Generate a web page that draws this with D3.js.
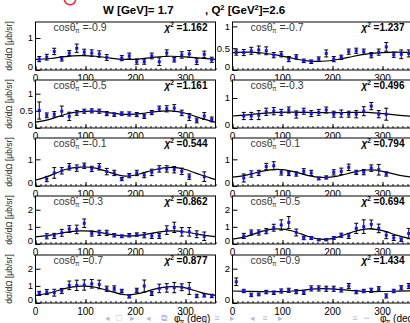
<!DOCTYPE html>
<html><head><meta charset="utf-8">
<script src="https://cdn.jsdelivr.net/npm/d3@7"></script>
<style>
body{margin:0;background:#fff;overflow:hidden}
svg{display:block}
text{font-family:"Liberation Sans",Arial,Helvetica,sans-serif}
</style>
</head><body><svg id="c" width="410" height="323"></svg>
<script>
// phi* bin centres (deg) shared by every panel
const phiBins = [7.5,22.5,37.5,52.5,67.5,82.5,97.5,112.5,127.5,142.5,157.5,172.5,187.5,202.5,217.5,232.5,247.5,262.5,277.5,292.5,307.5,322.5,337.5,352.5];
// fit curve sample points (deg)
const fitPhi = [0,30,60,90,120,150,180,210,240,270,300,330,360];
const xTickVals = [0,100,200,300];

const cosLabels = ["-0.9","-0.7","-0.5","-0.3","-0.1","0.1","0.3","0.5","0.7","0.9"];
const chi2Labels = ["1.162","1.237","1.161","0.496","0.544","0.794","0.862","0.694","0.877","1.434"];
const yMaxes = [1.5,1.1,1.4,1.6,1.8,1.8,2.8,2.8,2.8,2.8];
const yTickSets = [[0,1],[0,0.5,1],[0,0.5,1],[0,1],[0,1],[0,1],[0,1,2],[0,1,2],[0,1,2],[0,2]];

// dσ/dΩ [μb/sr], errors, and fit values per cosθ* bin
const dsM09 = [0.34,0.40,0.58,0.35,0.53,0.68,0.56,0.53,0.50,0.39,null,0.37,0.44,0.26,0.26,0.44,0.26,0.53,0.32,0.47,0.50,0.26,0.49,0.32];
const errM09 = [0.08,0.09,0.1,0.07,0.08,0.13,0.09,0.1,0.1,0.09,null,0.08,0.09,0.08,0.08,0.09,0.12,0.1,0.07,0.1,0.11,0.09,0.1,0.08];
const fitM09 = [0.33,0.36,0.42,0.45,0.43,0.37,0.33,0.35,0.40,0.43,0.41,0.37,0.33];

const dsM07 = [0.40,0.40,0.44,0.46,0.44,0.34,0.36,0.25,0.30,0.21,0.19,0.25,0.38,0.25,0.29,0.42,0.44,0.42,0.34,0.41,0.53,0.35,0.36,0.38];
const errM07 = [0.06,0.07,0.08,0.09,0.09,0.06,0.06,0.06,0.05,0.04,0.04,0.05,0.08,0.06,0.05,0.06,0.06,0.06,0.06,0.07,0.1,0.06,0.1,0.08];
const fitM07 = [0.40,0.41,0.39,0.34,0.27,0.21,0.20,0.24,0.31,0.37,0.40,0.41,0.40];

const dsM05 = [0.51,0.37,0.40,0.49,0.34,0.44,0.49,0.50,0.49,0.42,0.39,0.42,0.41,0.39,0.34,0.45,0.56,0.56,0.58,0.44,0.32,0.22,0.35,0.25];
const errM05 = [0.25,0.07,0.08,0.15,0.12,0.07,0.06,0.06,0.06,0.06,0.05,0.05,0.06,0.06,0.06,0.06,0.08,0.09,0.1,0.08,0.1,0.07,0.1,0.07];
const fitM05 = [0.17,0.26,0.40,0.48,0.49,0.44,0.40,0.42,0.48,0.50,0.43,0.29,0.17];

const dsM03 = [null,0.40,0.40,0.43,0.54,0.56,0.52,0.60,0.45,0.56,0.48,0.52,0.60,0.46,0.48,0.46,0.46,0.56,0.73,0.46,0.46,null,null,null];
const errM03 = [null,0.12,0.12,0.15,0.12,0.12,0.1,0.1,0.12,0.1,0.1,0.1,0.1,0.1,0.12,0.1,0.12,0.15,0.12,0.12,0.2,null,null,null];
const fitM03 = [0.40,0.44,0.49,0.52,0.53,0.52,0.51,0.51,0.52,0.52,0.48,0.43,0.39];

const dsM01 = [null,0.26,0.49,0.57,0.72,0.67,0.76,0.64,0.72,0.54,0.49,0.26,0.39,0.49,0.41,0.51,0.64,0.64,0.61,0.55,0.35,null,0.35,null];
const errM01 = [null,0.1,0.2,0.12,0.12,0.12,0.1,0.1,0.12,0.12,0.1,0.06,0.08,0.1,0.1,0.12,0.12,0.12,0.12,0.12,0.1,null,0.18,null];
const fitM01 = [0.22,0.40,0.62,0.71,0.67,0.50,0.37,0.46,0.62,0.70,0.62,0.42,0.24];

const dsP01 = [null,0.30,0.45,0.49,0.73,0.76,0.51,0.47,0.45,0.55,0.49,0.28,0.32,0.51,0.55,0.70,0.51,0.52,0.67,0.61,0.45,null,null,null];
const errP01 = [null,0.15,0.12,0.1,0.12,0.15,0.1,0.08,0.08,0.1,0.1,0.05,0.06,0.1,0.12,0.12,0.08,0.1,0.12,0.2,0.08,null,null,null];
const fitP01 = [0.33,0.42,0.56,0.62,0.55,0.40,0.32,0.37,0.51,0.60,0.55,0.42,0.33];

const dsP03 = [null,0.45,0.47,0.65,0.87,0.85,1.21,0.61,0.65,0.65,0.51,0.45,0.51,0.55,0.51,0.47,0.47,0.81,0.97,0.71,0.71,0.57,0.45,null];
const errP03 = [null,0.15,0.15,0.2,0.2,0.25,0.25,0.15,0.15,0.15,0.1,0.08,0.1,0.1,0.15,0.15,0.15,0.25,0.3,0.25,0.25,0.2,0.25,null];
const fitP03 = [0.42,0.52,0.68,0.76,0.72,0.56,0.47,0.52,0.66,0.76,0.70,0.55,0.43];

const dsP05 = [null,0.47,0.67,0.67,0.75,0.95,1.11,1.25,0.67,0.35,0.35,0.25,0.25,0.35,0.51,0.47,0.91,1.01,1.15,0.91,0.51,0.35,0.25,0.61];
const errP05 = [null,0.15,0.15,0.15,0.15,0.2,0.3,0.35,0.2,0.1,0.08,0.06,0.06,0.08,0.12,0.15,0.3,0.4,0.25,0.25,0.2,0.15,0.1,0.3];
const fitP05 = [0.28,0.46,0.75,0.88,0.76,0.45,0.27,0.40,0.70,0.88,0.78,0.50,0.28];

const dsP07 = [0.56,0.64,0.60,0.70,1.03,1.03,1.05,1.12,1.08,0.83,0.85,0.70,0.37,0.74,0.99,0.56,0.85,0.88,0.90,0.92,0.85,0.41,0.45,0.41];
const errP07 = [0.12,0.15,0.2,0.15,0.25,0.3,0.3,0.25,0.25,0.15,0.15,0.1,0.08,0.12,0.35,0.12,0.25,0.25,0.3,0.2,0.35,0.1,0.1,0.1];
const fitP07 = [0.45,0.60,0.85,0.98,0.92,0.68,0.48,0.58,0.82,0.95,0.88,0.62,0.44];

const dsP09 = [1.24,0.70,0.47,0.50,0.64,0.60,0.70,0.74,0.66,0.60,0.85,0.85,0.83,0.83,0.76,0.99,0.64,0.70,0.74,0.83,0.41,0.70,0.89,0.99];
const errP09 = [0.22,0.1,0.1,0.08,0.1,0.1,0.12,0.12,0.12,0.1,0.15,0.15,0.15,0.15,0.12,0.15,0.1,0.1,0.12,0.12,0.12,0.1,0.12,0.15];
const fitP09 = [0.70,0.68,0.66,0.66,0.70,0.78,0.84,0.80,0.72,0.67,0.67,0.69,0.71];

const dsSets = [dsM09,dsM07,dsM05,dsM03,dsM01,dsP01,dsP03,dsP05,dsP07,dsP09];
const errSets = [errM09,errM07,errM05,errM03,errM01,errP01,errP03,errP05,errP07,errP09];
const fitSets = [fitM09,fitM07,fitM05,fitM03,fitM01,fitP01,fitP03,fitP05,fitP07,fitP09];

// ---- layout ----
const colX0 = [35.5, 232.5];
const rowTop = [22, 80, 138, 196, 255];
const panelH = 48, panelW = 180;

const svg = d3.select("#c");

// title
const title = svg.append("text").attr("y", 14).attr("font-weight", "bold").attr("font-size", 11.5).attr("fill", "#000");
title.append("tspan").attr("x", 103).text("W [GeV]= 1.7");
title.append("tspan").attr("x", 205).text(", Q");
title.append("tspan").attr("dy", -4).attr("font-size", 7.5).text("2");
title.append("tspan").attr("dy", 4).text(" [GeV");
title.append("tspan").attr("dy", -4).attr("font-size", 7.5).text("2");
title.append("tspan").attr("dy", 4).text("]=2.6");

dsSets.forEach((ds, p) => {
  const row = Math.floor(p / 2), col = p % 2;
  const x0 = colX0[col], top = rowTop[row], bottom = top + panelH;
  const x = d3.scaleLinear().domain([0, 360]).range([x0, x0 + panelW]);
  const y = d3.scaleLinear().domain([0, yMaxes[p]]).range([bottom, top]);
  const g = svg.append("g");

  // panel background masks anything underneath
  g.append("rect").attr("x", x0).attr("y", top).attr("width", panelW).attr("height", panelH).attr("fill", "#fff");

  // x axis: minor ticks every 10 deg, majors every 100 deg (drawn inward)
  const xAxis = d3.axisTop(x).tickValues(d3.range(0, 361, 10)).tickSize(2).tickFormat("");
  g.append("g").attr("transform", `translate(0,${bottom})`).call(xAxis)
    .call(s => { s.select(".domain").remove(); s.selectAll("text").remove(); s.selectAll("line").attr("stroke", "#000").attr("stroke-width", 0.9); });
  const xMajor = d3.axisTop(x).tickValues(xTickVals).tickSize(4).tickFormat("");
  g.append("g").attr("transform", `translate(0,${bottom})`).call(xMajor)
    .call(s => { s.select(".domain").remove(); s.selectAll("text").remove(); s.selectAll("line").attr("stroke", "#000"); });
  // x tick labels
  g.append("g").selectAll("text").data(xTickVals).join("text")
    .attr("x", d => x(d)).attr("y", bottom + 11.5).attr("text-anchor", "middle")
    .attr("font-size", 10).attr("fill", "#000").text(d => d);

  // y axis ticks and labels
  const yAxis = d3.axisRight(y).tickValues(yTickSets[p]).tickSize(5).tickFormat("");
  g.append("g").attr("transform", `translate(${x0},0)`).call(yAxis)
    .call(s => { s.select(".domain").remove(); s.selectAll("text").remove(); s.selectAll("line").attr("stroke", "#000"); });
  g.append("g").selectAll("text").data(yTickSets[p]).join("text")
    .attr("x", x0 - 2.5).attr("y", d => y(d)).attr("dy", d => d === 0 ? "0.05em" : "0.35em").attr("text-anchor", "end")
    .attr("font-size", 9.5).attr("fill", "#000").text(d => d);

  // frame
  g.append("rect").attr("x", x0).attr("y", top).attr("width", panelW).attr("height", panelH)
    .attr("fill", "none").attr("stroke", "#000").attr("stroke-width", 1);

  // fit curve
  const fitPts = fitPhi.map((f, i) => [f, fitSets[p][i]]);
  g.append("path").datum(fitPts)
    .attr("d", d3.line().x(d => x(d[0])).y(d => y(d[1])).curve(d3.curveNatural))
    .attr("fill", "none").attr("stroke", "#000").attr("stroke-width", 1.2);

  // data points with error bars
  const pts = phiBins.map((f, i) => ({ f, v: ds[i], e: errSets[p][i] })).filter(d => d.v !== null);
  const pg = g.append("g").selectAll("g").data(pts).join("g");
  pg.append("line").attr("x1", d => x(d.f)).attr("x2", d => x(d.f))
    .attr("y1", d => y(d.v - d.e)).attr("y2", d => y(d.v + d.e)).attr("stroke", "#000").attr("stroke-width", 1);
  pg.append("line").attr("x1", d => x(d.f) - 2).attr("x2", d => x(d.f) + 2)
    .attr("y1", d => y(d.v + d.e)).attr("y2", d => y(d.v + d.e)).attr("stroke", "#000").attr("stroke-width", 1);
  pg.append("line").attr("x1", d => x(d.f) - 2).attr("x2", d => x(d.f) + 2)
    .attr("y1", d => y(d.v - d.e)).attr("y2", d => y(d.v - d.e)).attr("stroke", "#000").attr("stroke-width", 1);
  pg.append("rect").attr("x", d => x(d.f) - 1.5).attr("y", d => y(d.v) - 1.5)
    .attr("width", 3).attr("height", 3).attr("fill", "#1010ff");

  // cosθ* label
  const ct = g.append("text").attr("x", x0 + 18).attr("y", top + 8.5).attr("font-size", 10.5).attr("fill", "#3a3a3a");
  ct.append("tspan").text("cosθ");
  ct.append("tspan").attr("dy", -3.5).attr("font-size", 6.5).text("*");
  ct.append("tspan").attr("dx", -3.2).attr("dy", 6).attr("font-size", 6.5).text("π");
  ct.append("tspan").attr("dy", -2.5).text(" =" + cosLabels[p]);

  // χ² label
  const xt = g.append("text").attr("x", x0 + 172).attr("y", top + 8.5).attr("text-anchor", "end")
    .attr("font-size", 10).attr("font-weight", "bold").attr("fill", "#000");
  xt.append("tspan").attr("font-style", "italic").text("χ");
  xt.append("tspan").attr("dy", -3.5).attr("font-size", 6.5).text("2");
  xt.append("tspan").attr("dy", 3.5).text(" =" + chi2Labels[p]);

  // y axis title (left column only)
  if (col === 0) {
    g.append("text").attr("transform", `translate(9,${(top + bottom) / 2}) rotate(-90)`)
      .attr("text-anchor", "middle").attr("dy", "0.35em").attr("font-size", 8.5).attr("fill", "#222")
      .text("dσ/dΩ [μb/sr]");
  }
});

// x axis titles under the bottom row
[174, 380].forEach(tx => {
  const t = svg.append("text").attr("x", tx).attr("y", 321.5).attr("font-size", 10).attr("fill", "#000");
  t.append("tspan").text("φ");
  t.append("tspan").attr("dy", -3.5).attr("font-size", 6.5).text("*");
  t.append("tspan").attr("dx", -3.2).attr("dy", 6).attr("font-size", 6.5).text("π");
  t.append("tspan").attr("dy", -2.5).text(" (deg)");
});

// slide navigation symbols along the bottom
const navSyms = [["◂",107],["□",119],["▸",132],["◂",148],["⧉",164],["◂",204],["≡",217],["▸",232],["◂",252],["≡",265],["▸",280],["≡",355],["∽",367]];
svg.append("g").selectAll("text").data(navSyms).join("text")
  .attr("x", d => d[1]).attr("y", 321).attr("text-anchor", "middle")
  .attr("font-family", "DejaVu Sans").attr("font-size", 9).attr("fill", "#aeb2dc").attr("opacity", 0.9)
  .text(d => d[0]);

// red pen mark near the top edge
svg.append("g").attr("transform", "translate(70,-1)")
  .append("path")
  .attr("d", d3.arc()({ innerRadius: 5, outerRadius: 6.5, startAngle: Math.PI * 0.55, endAngle: Math.PI * 1.6 }))
  .attr("fill", "#ff2020");
</script>
</body></html>
